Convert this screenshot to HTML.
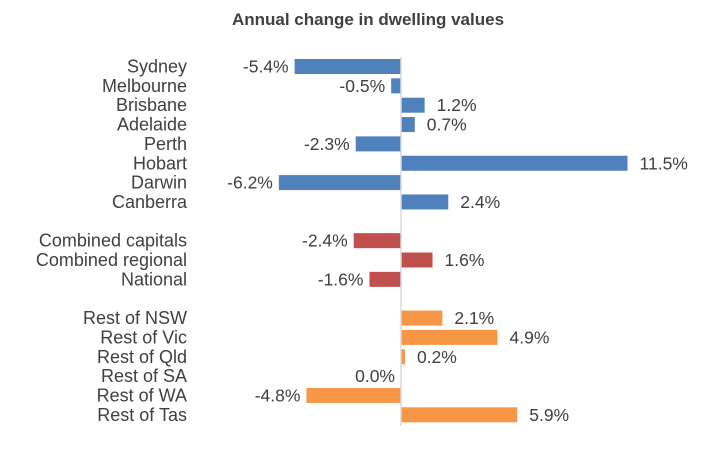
<!DOCTYPE html>
<html><head><meta charset="utf-8"><style>
body{margin:0;background:#fff;font-family:"Liberation Sans",sans-serif;}
svg text{font-family:"Liberation Sans",sans-serif;}
</style></head><body>
<svg id="chart" width="703" height="448">
<text x="368" y="25" text-anchor="middle" font-size="17" font-weight="bold" fill="#404040">Annual change in dwelling values</text>
<g id="bars"></g>
</svg>
<script>
const categories=["Sydney","Melbourne","Brisbane","Adelaide","Perth","Hobart","Darwin","Canberra","","Combined capitals","Combined regional","National","","Rest of NSW","Rest of Vic","Rest of Qld","Rest of SA","Rest of WA","Rest of Tas"];
const values=[-5.4,-0.5,1.2,0.7,-2.3,11.5,-6.2,2.4,null,-2.4,1.6,-1.6,null,2.1,4.9,0.2,0.0,-4.8,5.9];
const groups=["cap","cap","cap","cap","cap","cap","cap","cap","","agg","agg","agg","","reg","reg","reg","reg","reg","reg"];
const colors={cap:"#4f81bd",agg:"#c0504d",reg:"#f79646"};
const NS="http://www.w3.org/2000/svg";
const x0=401, pxPer=19.7, y0=66.5, step=19.35, bh=15;
const xs=v=>x0+v*pxPer;
const ys=i=>y0+i*step;
const g=document.getElementById('bars');
function mk(t,a){const e=document.createElementNS(NS,t);for(const k in a)e.setAttribute(k,a[k]);return e;}
categories.forEach((c,i)=>{
  if(values[i]===null)return;
  const v=values[i],y=ys(i);
  const r=mk('rect',{x:Math.min(xs(0),xs(v)),y:y-bh/2,width:Math.abs(xs(v)-xs(0)),height:bh,fill:colors[groups[i]]});
  
  
  g.appendChild(r);
  const l=mk('text',{x:187,y:y+6,'text-anchor':'end','font-size':18,fill:'#404040'});
  l.textContent=c;
  
  
  g.appendChild(l);
  const pos=v>0;
  const t=mk('text',{x:pos?xs(v)+12:xs(Math.min(v,0))-6,y:y+6,'text-anchor':pos?'start':'end','font-size':17.5,fill:'#404040'});
  t.textContent=v.toFixed(1)+'%';
  
  
  g.appendChild(t);
});
const ax=mk('line',{x1:x0,x2:x0,y1:57,y2:426,stroke:'#d9d9d9','stroke-width':1.5});


g.appendChild(ax);
</script>
</body></html>
